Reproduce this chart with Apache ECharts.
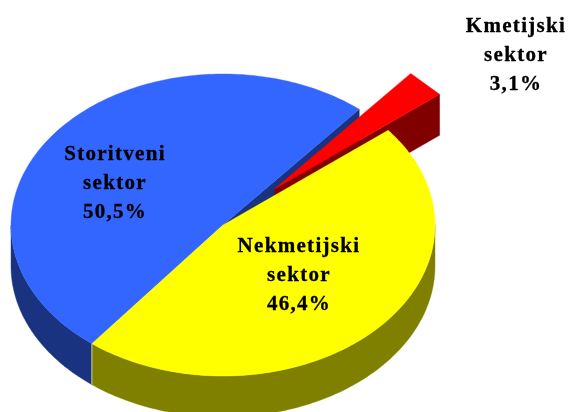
<!DOCTYPE html>
<html><head><meta charset="utf-8">
<style>html,body{margin:0;padding:0;background:#fff}#c{width:568px;height:412px}</style>
<script src="https://cdn.jsdelivr.net/npm/echarts@6/dist/echarts.min.js"></script>
</head><body><div id="c"></div>
<script>
// clockwise order, starting at the first slice
const categories = ['Kmetijski', 'Nekmetijski', 'Storitveni'];
const shares = [3.1, 46.4, 50.5];
const shareLabels = ['3,1%', '46,4%', '50,5%'];
const topColors = ['#ff0000', '#ffff00', '#3366ff'];
const wallColors = ['#800000', '#808000', '#1a3380'];
const explode = [0.34, 0, 0];
const drawOrder = [2, 0, 1];
const labelAnchors = [[516, 27], [299, 247], [115, 155]];

const cx = 223, cy = 225, rx = 212, ry = 151, depth = 41, startAngle = 40, lineGap = 29;
const total = shares.reduce((a, b) => a + b, 0);
const rad = d => d * Math.PI / 180;

function render(params, api) {
  const i = api.value(0);
  let before = 0;
  for (let k = 0; k < i; k++) before += shares[k];
  const a0 = startAngle + before / total * 360;
  const a1 = a0 + api.value(1) / total * 360;
  const mid = rad((a0 + a1) / 2);
  const ox = cx + explode[i] * rx * Math.sin(mid);
  const oy = cy - explode[i] * ry * Math.cos(mid);
  const pt = (d, dz) => [ox + rx * Math.sin(rad(d)), oy - ry * Math.cos(rad(d)) + (dz || 0)];
  const poly = (points, fill) => ({ type: 'polygon', silent: true, shape: { points }, style: { fill, stroke: fill, lineWidth: 0.4 } });
  const children = [];
  // outer wall: only the part facing the viewer
  for (const shift of [0, 360]) {
    const s = Math.max(a0, 90 + shift), e = Math.min(a1, 270 + shift);
    if (e > s) {
      const up = [], down = [];
      for (let d = s; d < e; d += 1) { up.push(pt(d)); down.unshift(pt(d, depth)); }
      up.push(pt(e)); down.unshift(pt(e, depth));
      children.push(poly(up.concat(down), wallColors[i]));
    }
  }
  // cut face at the clockwise end of the slice
  if (Math.sin(rad(a1)) > 0) {
    children.push(poly([[ox, oy], pt(a1), pt(a1, depth), [ox, oy + depth]], wallColors[i]));
  }
  // top: the thin slice's rim is a straight chord in the reference
  const top = [[ox, oy]];
  const step = (a1 - a0) < 15 ? (a1 - a0) : 1;
  for (let d = a0; d < a1 - 1e-6; d += step) top.push(pt(d));
  top.push(pt(a1));
  children.push(poly(top, topColors[i]));
  // light seam where the wall ends at the clockwise end of the front slice
  if (Math.sin(rad(a1)) < 0 && Math.cos(rad(a1)) < 0) {
    const p = pt(a1), q = pt(a1, depth);
    children.push({ type: 'line', silent: true, shape: { x1: p[0], y1: p[1], x2: q[0], y2: q[1] }, style: { stroke: '#c4c4a8', lineWidth: 1 } });
  }
  return { type: 'group', children };
}

function renderLabels(params, api) {
  const i = api.value(0);
  const lines = [categories[i], 'sektor', shareLabels[i]];
  return {
    type: 'group',
    children: lines.map((t, n) => ({
      type: 'text', silent: true,
      style: {
        x: labelAnchors[i][0], y: labelAnchors[i][1] + n * lineGap, text: t,
        fill: '#000', align: 'center', verticalAlign: 'middle',
        font: 'bold 21px "Liberation Serif", serif',
        stroke: '#000', lineWidth: 0.3
      }
    }))
  };
}

const sliceData = drawOrder.map(i => [i, shares[i]]);
const option = {
  animation: false,
  backgroundColor: '#fff',
  series: [
    { type: 'custom', coordinateSystem: 'none', renderItem: render, data: sliceData, z: 1 },
    { type: 'custom', coordinateSystem: 'none', renderItem: renderLabels, data: sliceData, z: 2 }
  ]
};
const chart = echarts.init(document.getElementById('c'), null, { renderer: 'canvas', width: 568, height: 412 });
chart.setOption(option);
// The reference's labels are letter-spaced; apply it on the canvas context and redraw.
const cv = document.querySelector('#c canvas');
if (cv) { cv.getContext('2d').letterSpacing = '1.3px'; chart.setOption(option, true); }
</script></body></html>
